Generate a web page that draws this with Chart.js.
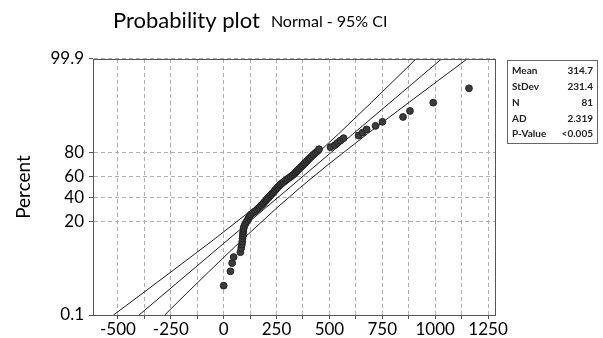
<!DOCTYPE html>
<html>
<head>
<meta charset="utf-8">
<script src="https://cdn.jsdelivr.net/npm/chart.js@4/dist/chart.umd.min.js"></script>
<style>
  html, body { margin: 0; padding: 0; background: #fff; }
  #wrap { width: 603px; height: 338px; }
</style>
</head>
<body>
<div id="wrap"><canvas id="probPlot" width="603" height="338"></canvas></div>
<script>
// sorted sample values (81 points)
const sampleValues = [0, 32, 40, 47, 79, 83, 86, 88, 89, 91, 91, 93, 94, 96, 100,
  105, 110, 115, 119, 124, 129, 138, 148, 157, 164, 171, 178, 186, 190, 196,
  202, 207, 213, 219, 224, 230, 236, 241, 246, 252, 257, 263, 268, 276, 284,
  292, 300, 308, 317, 325, 333, 339, 345, 351, 358, 365, 372, 379, 386, 393,
  400, 408, 416, 424, 434, 444, 451, 505, 525, 538, 552, 567, 638, 657, 676,
  718, 751, 848, 881, 991, 1160];

// fitted line and 95% CI band, read at a few percent levels
const fitPercent = [0.1, 99.9];
const fitValues = [-400, 1030];
const bandPercent = [0.1, 0.5, 2, 10, 30, 50, 70, 90, 98, 99.5, 99.9];
const lowerBand = [-521, -386, -250, -50, 140, 264, 382, 543, 701, 806, 909];
const upperBand = [-279, -177, -72, 86, 247, 365, 490, 679, 879, 1016, 1151];

// axes
const yTickPercent = [0.1, 20, 40, 60, 80, 99.9];
const yTickLabels = ["0.1", "20", "40", "60", "80", "99.9"];
const xGridValues = [-500, -375, -250, -125, 0, 125, 250, 375, 500, 625, 750, 875, 1000, 1125, 1250];

const statLabels = ["Mean", "StDev", "N", "AD", "P-Value"];
const statValues = ["314.7", "231.4", "81", "2.319", "<0.005"];

const FONT = "Lato, 'Open Sans', sans-serif";

// inverse normal cdf (Acklam) - used for the probability axis
function probit(p) {
  const a = [-39.69683028665376, 220.9460984245205, -275.9285104469687, 138.3577518672690, -30.66479806614716, 2.506628277459239];
  const b = [-54.47609879822406, 161.5858368580409, -155.6989798598866, 66.80131188771972, -13.28068155288572];
  const c = [-0.007784894002430293, -0.3223964580411365, -2.400758277161838, -2.549732539343734, 4.374664141464968, 2.938163982698783];
  const d = [0.007784695709041462, 0.3224671290700398, 2.445134137142996, 3.754408661907416];
  const pl = 0.02425;
  let q, r;
  if (p < pl) {
    q = Math.sqrt(-2 * Math.log(p));
    return (((((c[0] * q + c[1]) * q + c[2]) * q + c[3]) * q + c[4]) * q + c[5]) /
      ((((d[0] * q + d[1]) * q + d[2]) * q + d[3]) * q + 1);
  }
  if (p > 1 - pl) {
    q = Math.sqrt(-2 * Math.log(1 - p));
    return -(((((c[0] * q + c[1]) * q + c[2]) * q + c[3]) * q + c[4]) * q + c[5]) /
      ((((d[0] * q + d[1]) * q + d[2]) * q + d[3]) * q + 1);
  }
  q = p - 0.5;
  r = q * q;
  return (((((a[0] * r + a[1]) * r + a[2]) * r + a[3]) * r + a[4]) * r + a[5]) * q /
    (((((b[0] * r + b[1]) * r + b[2]) * r + b[3]) * r + b[4]) * r + 1);
}

const n = sampleValues.length;
// median rank plotting positions
const samplePoints = sampleValues.map((v, i) => ({ x: v, y: probit((i + 1 - 0.3) / (n + 0.4)) }));
const fitPoints = fitValues.map((v, i) => ({ x: v, y: probit(fitPercent[i] / 100) }));
const lowerPoints = lowerBand.map((v, i) => ({ x: v, y: probit(bandPercent[i] / 100) }));
const upperPoints = upperBand.map((v, i) => ({ x: v, y: probit(bandPercent[i] / 100) }));

const lineStyle = {
  showLine: true,
  borderColor: "#1e1e1e",
  borderWidth: 1,
  pointRadius: 0,
  fill: false,
};

// title, frame and stats box
const decorPlugin = {
  id: "decor",
  afterDraw(chart) {
    const ctx = chart.ctx;
    const area = chart.chartArea;
    ctx.save();
    ctx.strokeStyle = "#555";
    ctx.lineWidth = 1;
    ctx.strokeRect(Math.round(area.left) + 0.5, Math.round(area.top) + 0.5,
      Math.round(area.right - area.left), Math.round(area.bottom - area.top));

    ctx.fillStyle = "#000";
    ctx.textBaseline = "alphabetic";
    ctx.textAlign = "left";
    ctx.font = "22px " + FONT;
    ctx.fillText("Probability plot", 113, 28);
    const w = ctx.measureText("Probability plot").width;
    ctx.font = "16px " + FONT;
    ctx.fillText("Normal - 95% CI", 113 + w + 11, 27);

    // stats box
    const bx = 507, by = 60, bw = 90, bh = 83;
    ctx.strokeStyle = "#666";
    ctx.strokeRect(bx + 0.5, by + 0.5, bw, bh);
    ctx.font = "bold 10px " + FONT;
    ctx.fillStyle = "#222";
    ctx.textBaseline = "middle";
    statLabels.forEach((lab, i) => {
      const y = by + 11 + i * 15.8;
      ctx.textAlign = "left";
      ctx.fillText(lab, bx + 5, y);
      ctx.textAlign = "right";
      ctx.fillText(statValues[i], bx + bw - 4, y);
    });
    ctx.restore();
  },
};

const ctx = document.getElementById("probPlot").getContext("2d");

new Chart(ctx, {
  type: "scatter",
  data: {
    datasets: [
      {
        label: "Data",
        data: samplePoints,
        backgroundColor: "#3c3c3c",
        borderColor: "#222",
        borderWidth: 1,
        pointRadius: 3.4,
      },
      Object.assign({ label: "Fit", data: fitPoints }, lineStyle),
      Object.assign({ label: "Lower CI", data: lowerPoints }, lineStyle),
      Object.assign({ label: "Upper CI", data: upperPoints }, lineStyle),
    ],
  },
  options: {
    responsive: false,
    animation: false,
    layout: { padding: { top: 59, right: 108, left: 0, bottom: 0 } },
    plugins: {
      legend: { display: false },
      tooltip: { enabled: false },
      title: { display: false },
    },
    scales: {
      x: {
        type: "linear",
        min: -618,
        max: 1283,
        afterBuildTicks: (scale) => {
          scale.ticks = xGridValues.map((v) => ({ value: v }));
        },
        afterFit: (scale) => {
          scale.height = 23;
        },
        ticks: {
          color: "#000",
          font: { family: FONT, size: 17 },
          padding: 0,
          maxRotation: 0,
          autoSkip: false,
          callback: (v) => (v % 250 === 0 ? String(v) : ""),
        },
        grid: {
          color: "#b0b0b0",
          lineWidth: 1,
          drawTicks: true,
          tickLength: 4,
          tickColor: "#555",
        },
        border: { display: true, color: "#555", dash: [4, 3] },
      },
      y: {
        type: "linear",
        min: probit(0.001),
        max: probit(0.999),
        afterBuildTicks: (scale) => {
          scale.ticks = yTickPercent.map((p) => ({ value: probit(p / 100) }));
        },
        afterFit: (scale) => {
          scale.width = 93;
        },
        ticks: {
          color: "#000",
          font: { family: FONT, size: 17 },
          padding: 5,
          autoSkip: false,
          callback: (v, i) => yTickLabels[i],
        },
        grid: {
          color: "#b0b0b0",
          lineWidth: 1,
          drawTicks: true,
          tickLength: 4,
          tickColor: "#555",
        },
        border: { display: true, color: "#555", dash: [4, 3] },
        title: {
          display: true,
          text: "Percent",
          color: "#000",
          font: { family: FONT, size: 19 },
          padding: { top: 12, bottom: 0 },
        },
      },
    },
  },
  plugins: [decorPlugin],
});
</script>
</body>
</html>
